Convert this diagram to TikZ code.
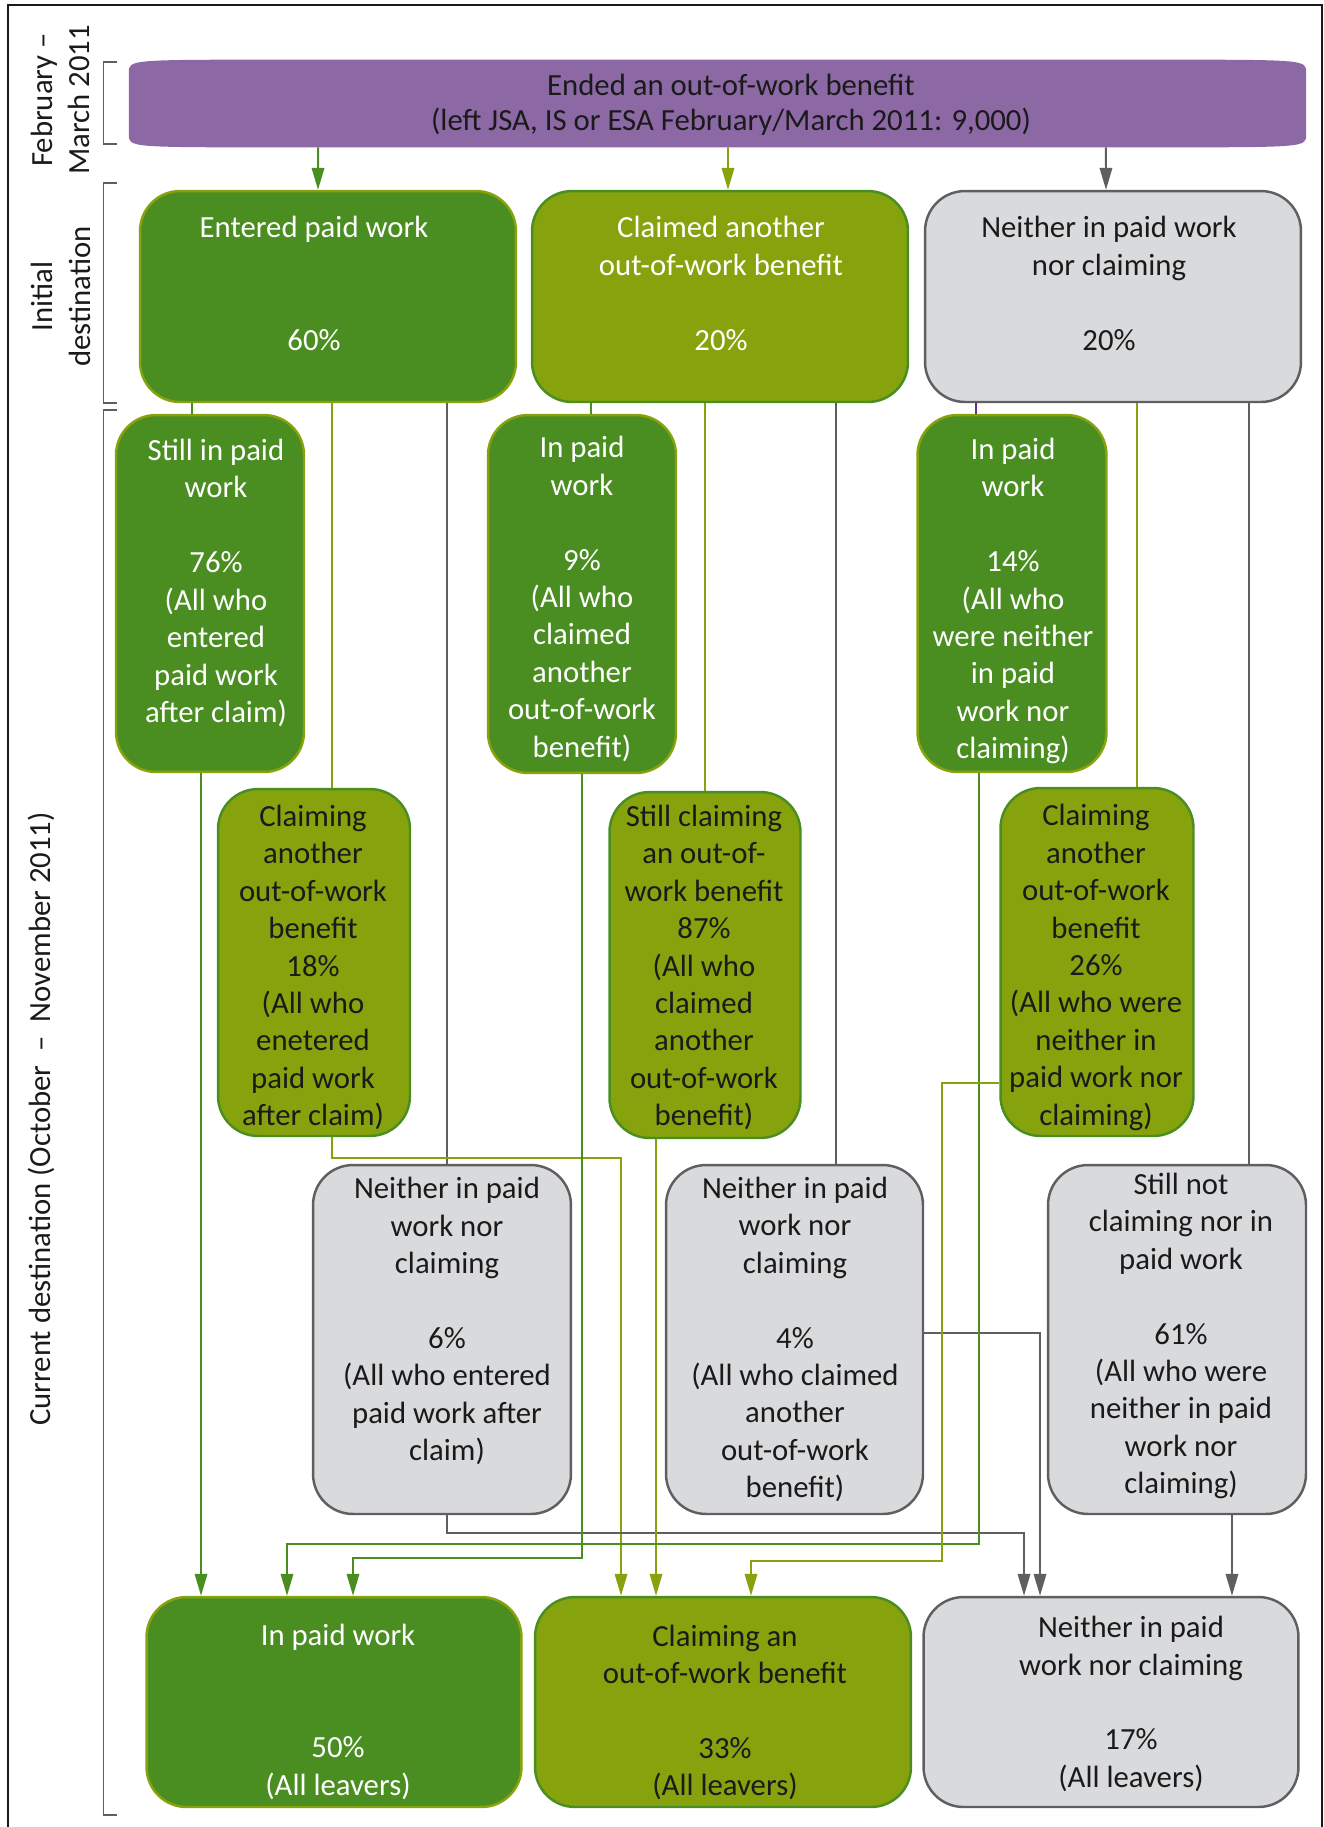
\documentclass[tikz,border=0pt]{standalone}
\usepackage{fontspec}
\setmainfont{Carlito}
\usepackage{tikz}
\usetikzlibrary{arrows.meta}
\definecolor{ink}{HTML}{1A1A1A}
\definecolor{wGreen}{HTML}{4A8E22}
\definecolor{cOlive}{HTML}{86A20C}
\definecolor{nGrey}{HTML}{D9DADC}
\definecolor{nEdge}{HTML}{5F5F61}
\definecolor{sPurple}{HTML}{8C68A4}
\definecolor{sViolet}{HTML}{5E2E91}
\tikzset{
  txt/.style={align=center, inner sep=0pt, font=\fontsize{17.5}{21.3}\selectfont, text=ink},
  brk/.style={nEdge, line width=0.75pt},
}

\begin{document}
\begin{tikzpicture}[x=0.02cm, y=-0.02cm,
  wbox/.style={rectangle, rounded corners=0.8cm, fill=wGreen, draw=cOlive, line width=1.4pt},
  cbox/.style={rectangle, rounded corners=0.8cm, fill=cOlive, draw=wGreen, line width=1.4pt},
  nbox/.style={rectangle, rounded corners=0.8cm, fill=nGrey, draw=nEdge, line width=1.4pt},
  wlink/.style={wGreen, line width=1.1pt},
  clink/.style={cOlive, line width=1.1pt},
  nlink/.style={nEdge, line width=1.1pt},
  tip/.style={-{Triangle[length=0.44cm, width=0.25cm]}}]
\useasboundingbox (0,0) rectangle (1324,1827);
\draw[ink, line width=1.1pt] (8,1827) -- (8,5) -- (1322,5) -- (1322,1827);
\draw[brk] (117,62) -- (103.5,62) -- (103.5,144) -- (117,144);
\draw[brk] (117,183) -- (103.5,183) -- (103.5,403) -- (117,403);
\draw[brk] (117,410) -- (103.5,410) -- (103.5,1815) -- (117,1815);
\node[txt, rotate=90] (per1) at (60.5,100) {February –\\March 2011};
\node[txt, rotate=90] (per2) at (61,296.5) {Initial\\destination};
\node[txt, rotate=90] (per3) at (41,1119) {Current destination (October~~–~~November 2011)};
\node[inner sep=0pt, minimum width=23.54cm, minimum height=1.74cm] (top) at (717.5,103.5) {};
\fill[sPurple] ([yshift=-0.26cm]top.north west) .. controls (top.north west) .. ([xshift=3cm]top.north west)
  -- ([xshift=-3cm]top.north east) .. controls (top.north east) .. ([yshift=-0.26cm]top.north east)
  -- ([yshift=0.26cm]top.south east) .. controls (top.south east) .. ([xshift=-3cm]top.south east)
  -- ([xshift=3cm]top.south west) .. controls (top.south west) .. ([yshift=0.26cm]top.south west) -- cycle;
\node[txt, font=\fontsize{17.5}{19.9}\selectfont] (topt) at (731,104.5) {Ended an out-of-work benefit\\(left JSA, IS or ESA February/March 2011: 9,000)};
\node[wbox, minimum width=7.52cm, minimum height=4.22cm] (a) at (328,296.5) {};
\node[cbox, minimum width=7.52cm, minimum height=4.22cm] (b) at (720,296.5) {};
\node[nbox, minimum width=7.52cm, minimum height=4.22cm] (c) at (1113,296.5) {};
\node[wbox, minimum width=3.76cm, minimum height=7.14cm] (w1) at (210,593.5) {};
\node[wbox, minimum width=3.76cm, minimum height=7.16cm] (c1) at (582,594) {};
\node[wbox, minimum width=3.78cm, minimum height=7.14cm] (n1) at (1012,593.5) {};
\node[cbox, minimum width=3.84cm, minimum height=6.94cm] (w2) at (314,962.5) {};
\node[cbox, minimum width=3.82cm, minimum height=6.92cm] (c2) at (705,965) {};
\node[cbox, minimum width=3.86cm, minimum height=6.96cm] (n2) at (1097,962) {};
\node[nbox, minimum width=5.16cm, minimum height=6.98cm] (w3) at (442,1339.5) {};
\node[nbox, minimum width=5.14cm, minimum height=6.98cm] (c3) at (794.5,1339.5) {};
\node[nbox, minimum width=5.16cm, minimum height=6.98cm] (n3) at (1177,1339.5) {};
\node[wbox, minimum width=7.5cm, minimum height=4.2cm] (f1) at (334,1702) {};
\node[cbox, minimum width=7.52cm, minimum height=4.2cm] (f2) at (723,1702) {};
\node[nbox, minimum width=7.5cm, minimum height=4.2cm] (f3) at (1111,1702) {};
\draw[wlink, tip] ([xshift=-7.99cm]top.south) -- ([xshift=-0.2cm]a.north);
\draw[clink, tip] ([xshift=0.21cm]top.south) -- ([xshift=0.16cm]b.north);
\draw[nlink, tip] ([xshift=7.77cm]top.south) -- ([xshift=-0.14cm]c.north);
\draw[wlink] ([xshift=-2.72cm]a.south) -- ([xshift=-0.36cm]w1.north);
\draw[clink] ([xshift=0.08cm]a.south) -- ([xshift=0.36cm]w2.north);
\draw[nlink] ([xshift=2.38cm]a.south) -- ([xshift=0.1cm]w3.north);
\draw[wlink] ([xshift=-2.58cm]b.south) -- ([xshift=0.18cm]c1.north);
\draw[clink] ([xshift=-0.3cm]b.south) -- (c2.north);
\draw[nlink] ([xshift=2.32cm]b.south) -- ([xshift=0.83cm]c3.north);
\draw[sViolet, line width=1.1pt] ([xshift=-2.74cm]c.south) -- ([xshift=-0.72cm]n1.north);
\draw[clink] ([xshift=0.48cm]c.south) -- ([xshift=0.8cm]n2.north);
\draw[nlink] ([xshift=2.72cm]c.south) -- ([xshift=1.44cm]n3.north);
\draw[wlink, tip] ([xshift=-0.18cm]w1.south) -- ([xshift=-2.66cm]f1.north);
\draw[clink, tip] ([xshift=0.36cm]w2.south) -- ++(0,21) -| ([xshift=-2.04cm]f2.north);
\draw[nlink, tip] ([xshift=0.1cm]w3.south) -- ++(0,18) -| ([xshift=-1.74cm]f3.north);
\draw[wlink, tip] (c1.south) -- ++(0,784) -| ([xshift=0.38cm]f1.north);
\draw[clink, tip] ([xshift=-0.98cm]c2.south) -- ([xshift=-1.34cm]f2.north);
\draw[nlink, tip] ([yshift=0.13cm]c3.east) -| ([xshift=-1.42cm]f3.north);
\draw[wlink, tip] ([xshift=-0.66cm]n1.south) -- ++(0,771) -| ([xshift=-0.94cm]f1.north);
\draw[clink, tip] ([yshift=-2.42cm]n2.west) -- ++(-57,0) -- ++(0,478) -| ([xshift=0.56cm]f2.north);
\draw[nlink, tip] ([xshift=1.1cm]n3.south) -- ([xshift=2.42cm]f3.north);
\node[txt, text=white] (at) at (314,283.5) {Entered paid work\\~\\~\\60\%};
\node[txt, text=white] (bt) at (721,283.5) {Claimed another\\out-of-work benefit\\~\\20\%};
\node[txt] (ct) at (1109,283.5) {Neither in paid work\\nor claiming\\~\\20\%};
\node[txt, text=white] (w1t) at (216,583) {Still in paid\\work\\~\\76\%\\(All who\\entered\\paid work\\after claim)};
\node[txt, text=white] (c1t) at (582,599) {In paid\\work\\~\\9\%\\(All who\\claimed\\another\\out-of-work\\benefit)};
\node[txt, text=white] (n1t) at (1013,601) {In paid\\work\\~\\14\%\\(All who\\were neither\\in paid\\work nor\\claiming)};
\node[txt] (w2t) at (313,967.5) {Claiming\\another\\out-of-work\\benefit\\18\%\\(All who\\enetered\\paid work\\after claim)};
\node[txt] (c2t) at (704,967.5) {Still claiming\\an out-of-\\work benefit\\87\%\\(All who\\claimed\\another\\out-of-work\\benefit)};
\node[txt] (n2t) at (1096,967.5) {Claiming\\another\\out-of-work\\benefit\\26\%\\(All who were\\neither in\\paid work nor\\claiming)};
\node[txt] (w3t) at (447,1321) {Neither in paid\\work nor\\claiming\\~\\6\%\\(All who entered\\paid work after\\claim)};
\node[txt] (c3t) at (795,1339.5) {Neither in paid\\work nor\\claiming\\~\\4\%\\(All who claimed\\another\\out-of-work\\benefit)};
\node[txt] (n3t) at (1181,1336) {Still not\\claiming nor in\\paid work\\~\\61\%\\(All who were\\neither in paid\\work nor\\claiming)};
\node[txt, text=white] (f1t) at (338,1712) {In paid work\\~\\~\\50\%\\(All leavers)};
\node[txt] (f2t) at (725,1712.5) {Claiming an\\out-of-work benefit\\~\\33\%\\(All leavers)};
\node[txt] (f3t) at (1131,1704) {Neither in paid\\work nor claiming\\~\\17\%\\(All leavers)};
\end{tikzpicture}
\end{document}
